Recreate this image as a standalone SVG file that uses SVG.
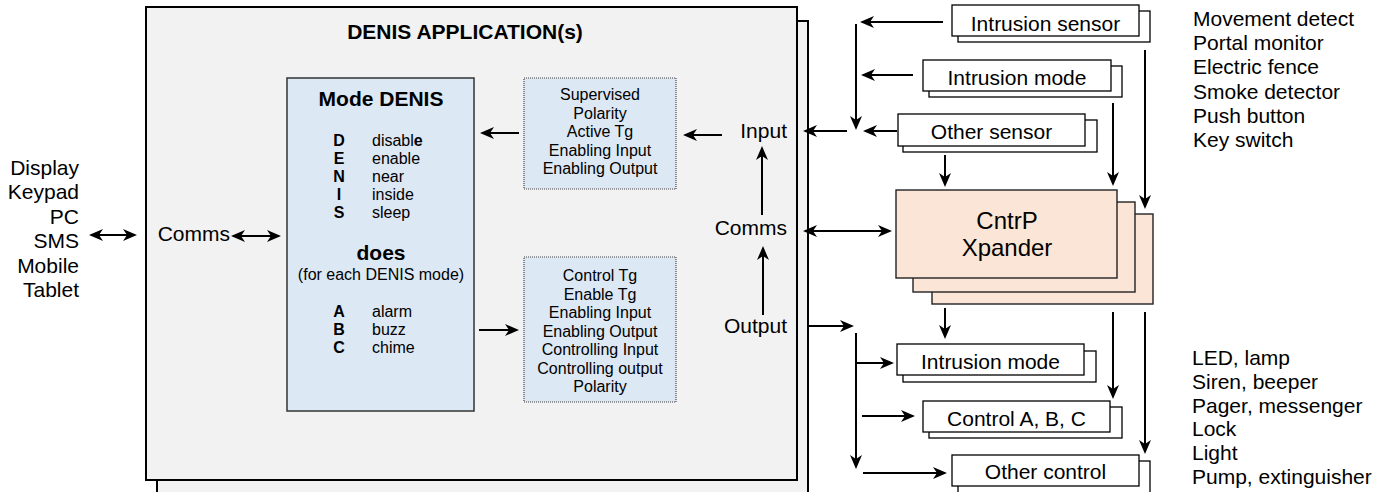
<svg xmlns="http://www.w3.org/2000/svg" width="1391" height="492" viewBox="0 0 1391 492">
<defs>
<style>
text { font-family: "Liberation Sans", Arial, Helvetica, sans-serif; fill: #000; }
.t21 { font-size: 21px; }
.t24 { font-size: 24px; }
.t16 { font-size: 16px; }
.b { font-weight: bold; }
.mid { text-anchor: middle; }
.end { text-anchor: end; }
.app { fill: #f2f2f2; stroke: #000; stroke-width: 2; }
.dev { fill: #fff; stroke: #000; stroke-width: 1.3; }
.mode { fill: #dde8f5; stroke: #333; stroke-width: 1.5; }
.param { fill: #dde8f5; stroke: #444; stroke-width: 1.2; stroke-dasharray: 1 1; }
.xp { fill: #fbe5d6; stroke: #222; stroke-width: 1.4; }
.wire { fill: none; stroke: #000; stroke-width: 2; }
.arr { marker-end: url(#head); }
.both { marker-start: url(#head); marker-end: url(#head); }
</style>
<marker id="head" markerUnits="userSpaceOnUse" markerWidth="14" markerHeight="12" refX="12" refY="6" orient="auto-start-reverse" viewBox="0 0 14 12">
<path d="M0,0 L14,6 L0,12 L4,6 Z" fill="#000"/>
</marker>
</defs>

<rect width="1391" height="492" fill="#fff"/>

<!-- application container (stacked) -->
<g id="app">
<rect class="app" x="157" y="21" width="651" height="480"/>
<rect class="app" x="146" y="7" width="651" height="473"/>
<text class="t21 b mid" x="465" y="39">DENIS APPLICATION(s)</text>
<text class="t21 end" x="230" y="241">Comms</text>
<text class="t21 end" x="787" y="138">Input</text>
<text class="t21 end" x="787" y="235">Comms</text>
<text class="t21 end" x="787" y="333">Output</text>
</g>

<!-- mode table -->
<g id="mode-denis">
<rect class="mode" x="287" y="78" width="187" height="333"/>
<text class="t21 b mid" x="381" y="106">Mode DENIS</text>
<g class="t16 b mid">
<text x="339" y="146">D</text>
<text x="339" y="164">E</text>
<text x="339" y="182">N</text>
<text x="339" y="200">I</text>
<text x="339" y="218">S</text>
<text x="339" y="317">A</text>
<text x="339" y="335">B</text>
<text x="339" y="353">C</text>
</g>
<g class="t16">
<text x="372" y="146">disabl<tspan class="b">e</tspan></text>
<text x="372" y="164">enable</text>
<text x="372" y="182">near</text>
<text x="372" y="200">inside</text>
<text x="372" y="218">sleep</text>
<text x="372" y="317">alarm</text>
<text x="372" y="335">buzz</text>
<text x="372" y="353">chime</text>
</g>
<text class="t21 b mid" x="381" y="260">does</text>
<text class="t16 mid" x="381" y="280">(for each DENIS mode)</text>
</g>

<!-- input parameters -->
<g id="input-params">
<rect class="param" x="524" y="78" width="152" height="111"/>
<g class="t16 mid">
<text x="600" y="100">Supervised</text>
<text x="600" y="118.5">Polarity</text>
<text x="600" y="137">Active Tg</text>
<text x="600" y="155.5">Enabling Input</text>
<text x="600" y="174">Enabling Output</text>
</g>
</g>

<!-- output parameters -->
<g id="output-params">
<rect class="param" x="524" y="257" width="152" height="145"/>
<g class="t16 mid">
<text x="600" y="281">Control Tg</text>
<text x="600" y="299.5">Enable Tg</text>
<text x="600" y="318">Enabling Input</text>
<text x="600" y="336.5">Enabling Output</text>
<text x="600" y="355">Controlling Input</text>
<text x="600" y="373.5">Controlling output</text>
<text x="600" y="392">Polarity</text>
</g>
</g>

<!-- user interfaces -->
<g id="interfaces" class="t21 end">
<text x="79" y="175">Display</text>
<text x="79" y="199.4">Keypad</text>
<text x="79" y="223.8">PC</text>
<text x="79" y="248.2">SMS</text>
<text x="79" y="272.6">Mobile</text>
<text x="79" y="297">Tablet</text>
</g>

<!-- input devices -->
<g id="intrusion-sensor">
<rect class="dev" x="958" y="11" width="192" height="31"/>
<rect class="dev" x="952" y="5" width="187" height="31"/>
<text class="t21 mid" x="1045.5" y="30.5">Intrusion sensor</text>
</g>
<g id="intrusion-mode-in">
<rect class="dev" x="929" y="66" width="193" height="31"/>
<rect class="dev" x="923" y="60" width="188" height="31"/>
<text class="t21 mid" x="1017" y="85">Intrusion mode</text>
</g>
<g id="other-sensor">
<rect class="dev" x="903" y="120" width="194" height="32"/>
<rect class="dev" x="898" y="114" width="187" height="32"/>
<text class="t21 mid" x="991.5" y="138.5">Other sensor</text>
</g>

<!-- controller stack -->
<g id="xpander">
<rect class="xp" x="932" y="214" width="221" height="90"/>
<rect class="xp" x="913" y="202" width="222" height="90"/>
<rect class="xp" x="896" y="190" width="221" height="88"/>
<text class="t24 mid" x="1007" y="229">CntrP</text>
<text class="t24 mid" x="1007" y="256">Xpander</text>
</g>

<!-- output devices -->
<g id="intrusion-mode-out">
<rect class="dev" x="903" y="351" width="193" height="31"/>
<rect class="dev" x="897" y="344" width="187" height="31"/>
<text class="t21 mid" x="990.5" y="368.5">Intrusion mode</text>
</g>
<g id="control-abc">
<rect class="dev" x="929" y="407" width="193" height="31"/>
<rect class="dev" x="923" y="401" width="187" height="31"/>
<text class="t21 mid" x="1016.5" y="425.5">Control A, B, C</text>
</g>
<g id="other-control">
<rect class="dev" x="958" y="461" width="192" height="34"/>
<rect class="dev" x="952" y="455" width="187" height="31"/>
<text class="t21 mid" x="1045.5" y="479">Other control</text>
</g>

<!-- device examples -->
<g id="sensor-examples" class="t21">
<text x="1193" y="26">Movement detect</text>
<text x="1193" y="50.2">Portal monitor</text>
<text x="1193" y="74.4">Electric fence</text>
<text x="1193" y="98.6">Smoke detector</text>
<text x="1193" y="122.8">Push button</text>
<text x="1193" y="147">Key switch</text>
</g>
<g id="actuator-examples" class="t21">
<text x="1192" y="365">LED, lamp</text>
<text x="1192" y="388.8">Siren, beeper</text>
<text x="1192" y="412.6">Pager, messenger</text>
<text x="1192" y="436.4">Lock</text>
<text x="1192" y="460.2">Light</text>
<text x="1192" y="484">Pump, extinguisher</text>
</g>

<!-- connectors -->
<g id="connectors" class="wire">
<line class="both" x1="91" y1="235" x2="135" y2="235"/>
<line class="both" x1="233" y1="236" x2="279" y2="236"/>
<line class="arr" x1="519" y1="133" x2="482" y2="133"/>
<line class="arr" x1="479" y1="330" x2="517" y2="330"/>
<line class="arr" x1="722" y1="135" x2="685" y2="135"/>
<line class="arr" x1="762" y1="215" x2="762" y2="148"/>
<line class="arr" x1="763" y1="315" x2="763" y2="248"/>
<line class="arr" x1="847" y1="131" x2="805" y2="131"/>
<line class="arr" x1="943" y1="22" x2="862" y2="22"/>
<line class="arr" x1="913" y1="75" x2="863" y2="75"/>
<line class="arr" x1="897" y1="131" x2="865" y2="131"/>
<line class="arr" x1="856" y1="24" x2="856" y2="128"/>
<line class="both" x1="805" y1="231" x2="890" y2="231"/>
<line class="arr" x1="945" y1="155" x2="945" y2="185"/>
<line class="arr" x1="1113" y1="103" x2="1113" y2="184"/>
<line class="arr" x1="1145" y1="50" x2="1145" y2="207"/>
<line class="arr" x1="808" y1="326" x2="852" y2="326"/>
<line class="arr" x1="856" y1="333" x2="856" y2="467"/>
<line class="arr" x1="856" y1="363" x2="892" y2="363"/>
<line class="arr" x1="862" y1="416" x2="913" y2="416"/>
<line class="arr" x1="863" y1="473" x2="945" y2="473"/>
<line class="arr" x1="945" y1="308" x2="945" y2="337"/>
<line class="arr" x1="1113" y1="312" x2="1113" y2="397"/>
<line class="arr" x1="1145" y1="312" x2="1145" y2="452"/>
</g>
</svg>
